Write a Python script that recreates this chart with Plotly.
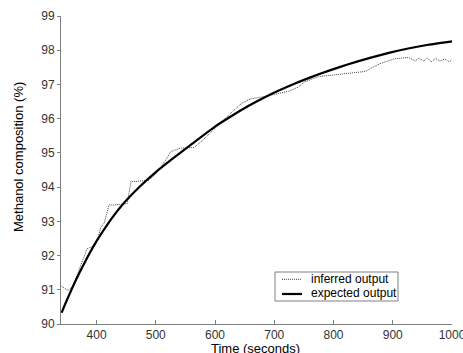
import plotly.graph_objects as go

# Expected output (smooth curve)
exp_time = [341, 350, 365, 380, 400, 420, 443, 474, 500, 529, 560, 600, 630, 656, 690, 727, 760, 790, 825, 860, 895, 926, 960, 1000]
exp_comp = [90.33, 90.70, 91.28, 91.80, 92.42, 92.95, 93.47, 94.03, 94.44, 94.84, 95.25, 95.77, 96.10, 96.37, 96.68, 96.97, 97.20, 97.39, 97.59, 97.77, 97.93, 98.05, 98.16, 98.26]

# Inferred output (dotted, step-like)
inf_time = [341, 352, 360, 373, 384, 398, 403, 407, 413, 418, 421, 430, 440, 452, 455, 458, 470, 488, 498, 508, 517, 525, 535, 542, 555, 565, 578, 590, 600, 610, 620, 629, 645, 660, 682, 700, 724, 740, 752, 775, 808, 830, 854, 866, 880, 903, 926, 938, 945, 952, 958, 965, 972, 980, 988, 994, 1000]
inf_comp = [91.10, 90.98, 91.10, 91.67, 92.20, 92.30, 92.55, 92.82, 92.95, 93.28, 93.48, 93.48, 93.50, 93.52, 93.85, 94.16, 94.17, 94.20, 94.35, 94.56, 94.80, 95.03, 95.10, 95.14, 95.15, 95.16, 95.35, 95.55, 95.72, 95.90, 96.05, 96.20, 96.45, 96.58, 96.64, 96.70, 96.80, 96.92, 97.08, 97.23, 97.29, 97.32, 97.38, 97.50, 97.62, 97.75, 97.79, 97.69, 97.77, 97.68, 97.78, 97.66, 97.76, 97.68, 97.75, 97.67, 97.70]

x_ticks = [400, 500, 600, 700, 800, 900, 1000]
y_ticks = [90, 91, 92, 93, 94, 95, 96, 97, 98, 99]
legend_labels = ["inferred output", "expected output"]
x_title = "Time (seconds)"
y_title = "Methanol composition (%)"

FONT = "Arial, Liberation Sans, sans-serif"
DOT = dict(color="#444444", width=1, dash="1px,1px")
SOLID = dict(color="black", width=2.2)

fig = go.Figure()
fig.add_trace(go.Scatter(x=inf_time, y=inf_comp, mode="lines", name=legend_labels[0], line=DOT, showlegend=False))
fig.add_trace(go.Scatter(x=exp_time, y=exp_comp, mode="lines", name=legend_labels[1],
                         line=dict(**SOLID, shape="spline", smoothing=0.5), showlegend=False))

axis_common = dict(showgrid=False, zeroline=False, showline=True, linecolor="#808080", linewidth=1,
                   tickcolor="#808080", tickfont=dict(family=FONT, size=12, color="#333333"),
                   mirror=False, automargin=False, ticklabeloverflow="allow")

fig.update_xaxes(range=[340, 1000], tickvals=x_ticks, ticks="inside", ticklen=4, **axis_common)
fig.update_yaxes(range=[90, 99], tickvals=y_ticks, ticks="outside", ticklen=3, **axis_common)

# Paper coordinates of the plot area
def px(xp):
    return (xp - 61) / 391.0

def py(yp):
    return (324 - yp) / 308.0

shapes = [
    dict(type="rect", xref="paper", yref="paper", x0=px(275), x1=px(398), y0=py(301), y1=py(272),
         line=dict(color="#808080", width=1), fillcolor="white", layer="above"),
    dict(type="line", xref="paper", yref="paper", x0=px(282), x1=px(302), y0=py(279.3), y1=py(279.3),
         line=DOT, layer="above"),
    dict(type="line", xref="paper", yref="paper", x0=px(282), x1=px(302), y0=py(294), y1=py(294),
         line=SOLID, layer="above"),
]
annotations = [
    dict(xref="paper", yref="paper", x=px(309), y=py(279), text=legend_labels[0], showarrow=False,
         xanchor="left", yanchor="middle", font=dict(family=FONT, size=12, color="black")),
    dict(xref="paper", yref="paper", x=px(309), y=py(293), text=legend_labels[1], showarrow=False,
         xanchor="left", yanchor="middle", font=dict(family=FONT, size=12, color="black")),
    dict(xref="paper", yref="paper", x=px(255.5), y=py(348), text=x_title, showarrow=False,
         xanchor="center", yanchor="middle", font=dict(family=FONT, size=13, color="black")),
    dict(xref="paper", yref="paper", x=px(18.5), y=py(157.5), text=y_title, showarrow=False, textangle=-90,
         xanchor="center", yanchor="middle", font=dict(family=FONT, size=13, color="black")),
]

fig.update_layout(
    width=463, height=353,
    margin=dict(l=61, r=11, t=16, b=29),
    plot_bgcolor="white", paper_bgcolor="white",
    font=dict(family=FONT, size=12, color="black"),
    shapes=shapes, annotations=annotations,
    showlegend=False,
)

fig.write_html("out.html", config={"displayModeBar": False},
               post_script="document.body.style.margin='0';")
